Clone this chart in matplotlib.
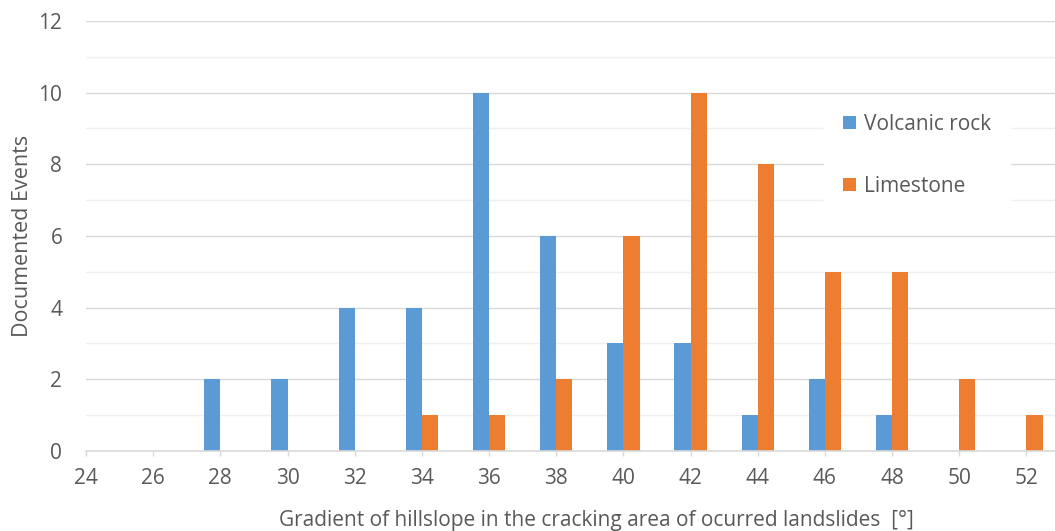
import matplotlib
matplotlib.use("Agg")
import matplotlib.pyplot as plt
import numpy as np
from matplotlib.ticker import MultipleLocator

categories = [24, 26, 28, 30, 32, 34, 36, 38, 40, 42, 44, 46, 48, 50, 52]
volcanic = [0, 0, 2, 2, 4, 4, 10, 6, 3, 3, 1, 2, 1, 0, 0]
limestone = [0, 0, 0, 0, 0, 1, 1, 2, 6, 10, 8, 5, 5, 2, 1]
series_names = ["Volcanic rock", "Limestone"]
colors = ["#5B9BD5", "#ED7D31"]

plt.rcParams['font.family'] = ['Open Sans', 'DejaVu Sans']
txt = "#595959"

fig = plt.figure(figsize=(10.55, 5.31), dpi=100)
ax = fig.add_axes([0.0815, 0.1507, 0.9185, 0.8098])

x = np.array(categories, dtype=float)
w = 0.48
ax.bar(x - w / 2, volcanic, width=w, color=colors[0], label=series_names[0], zorder=3)
ax.bar(x + w / 2, limestone, width=w, color=colors[1], label=series_names[1], zorder=3)

ax.set_xlim(24, 52.85)
ax.set_ylim(0, 12)
ax.set_xticks(categories)
ax.set_xticklabels([str(c) for c in categories])
ax.yaxis.set_major_locator(MultipleLocator(2))
ax.yaxis.set_minor_locator(MultipleLocator(1))
ax.grid(axis='y', which='major', color='#D9D9D9', linewidth=1.0, zorder=0)
ax.grid(axis='y', which='minor', color='#EFEFEF', linewidth=1.0, zorder=0)

for s in ['top', 'right', 'left']:
    ax.spines[s].set_visible(False)
ax.spines['bottom'].set_color('#D9D9D9')
ax.spines['bottom'].set_linewidth(1.2)
ax.spines['bottom'].set_zorder(4)

ax.tick_params(axis='x', colors='#D9D9D9', length=3.6, width=1.0, labelcolor=txt, labelsize=15, pad=8.6)
ax.tick_params(axis='y', which='both', length=0, labelcolor=txt, labelsize=15, pad=17)

ax.set_ylabel("Documented Events", color=txt, fontsize=15.5, labelpad=4)
ax.set_xlabel("Gradient of hillslope in the cracking area of ocurred landslides  [°]",
              color=txt, fontsize=15, va='baseline')
ax.xaxis.set_label_coords(0.527, -0.1744)

leg = ax.legend(loc='upper left', bbox_to_anchor=(0.762, 0.8275), frameon=True,
                fontsize=15, handlelength=0.6, handleheight=0.6, handletextpad=0.4,
                labelspacing=1.95, borderpad=0.9, borderaxespad=0)
leg.get_frame().set_facecolor('white')
leg.get_frame().set_edgecolor('white')
leg.get_frame().set_alpha(1.0)
leg.get_frame().set_boxstyle('square', pad=0)
for t in leg.get_texts():
    t.set_color(txt)
leg.set_zorder(5)

fig.savefig("out.png", dpi=100, facecolor='white')
